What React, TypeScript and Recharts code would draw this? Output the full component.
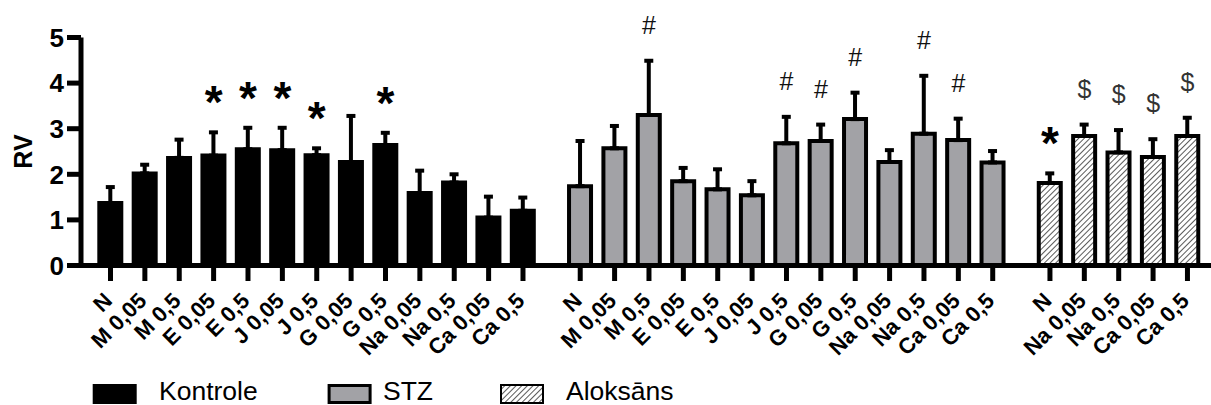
import React from 'react';
import { ComposedChart, Bar, Cell, ErrorBar, XAxis, YAxis, Scatter, Legend } from 'recharts';

// ---- data ----
const doseLabels = ['N', 'M 0,05', 'M 0,5', 'E 0,05', 'E 0,5', 'J 0,05', 'J 0,5', 'G 0,05', 'G 0,5', 'Na 0,05', 'Na 0,5', 'Ca 0,05', 'Ca 0,5'];
const alokLabels = ['N', 'Na 0,05', 'Na 0,5', 'Ca 0,05', 'Ca 0,5'];

const kontroleValues = [1.37, 2.02, 2.36, 2.41, 2.55, 2.53, 2.42, 2.27, 2.64, 1.59, 1.82, 1.05, 1.2];
const kontroleErrors = [0.35, 0.19, 0.4, 0.51, 0.47, 0.49, 0.15, 1.01, 0.27, 0.49, 0.18, 0.46, 0.29];
const kontroleMarks = ['', '', '', '*', '*', '*', '*', '', '*', '', '', '', ''];

const stzValues = [1.74, 2.57, 3.3, 1.85, 1.67, 1.54, 2.68, 2.73, 3.21, 2.27, 2.89, 2.75, 2.26];
const stzErrors = [0.99, 0.49, 1.19, 0.29, 0.44, 0.31, 0.58, 0.36, 0.58, 0.26, 1.27, 0.47, 0.25];
const stzMarks = ['', '', '#', '', '', '', '#', '#', '#', '', '#', '#', ''];

const alokValues = [1.81, 2.84, 2.48, 2.38, 2.84];
const alokErrors = [0.21, 0.25, 0.49, 0.39, 0.4];
const alokMarks = ['*', '$', '$', '$', '$'];

const groupNames = ['Kontrole', 'STZ', 'Aloksāns'];
const yTicks = [0, 1, 2, 3, 4, 5];

// ---- layout / style ----
const FONT = '"Liberation Sans", Arial, Helvetica, sans-serif';
const GROUP_GAP = 0.665;
const GREY = '#a2a2a6';

type Row = { x: number; label: string; value: number; err: [number, number]; top: number; mark: string; group: number };

const groups = [
  { labels: doseLabels, values: kontroleValues, errors: kontroleErrors, marks: kontroleMarks },
  { labels: doseLabels, values: stzValues, errors: stzErrors, marks: stzMarks },
  { labels: alokLabels, values: alokValues, errors: alokErrors, marks: alokMarks },
];

const rows: Row[] = [];
{
  let pos = 0;
  groups.forEach((g, gi) => {
    if (gi > 0) pos += GROUP_GAP;
    g.labels.forEach((label, i) => {
      rows.push({
        x: pos,
        label,
        value: g.values[i],
        err: [0, g.errors[i]],
        top: g.values[i] + g.errors[i],
        mark: g.marks[i],
        group: gi,
      });
      pos += 1;
    });
  });
}
const xTicks = rows.map((r) => r.x);

const fillFor = (g: number) => (g === 0 ? '#000' : g === 1 ? GREY : 'url(#hatch)');

const renderXTick = (props: any) => {
  const { x, y, payload } = props;
  const row = rows.find((r) => Math.abs(r.x - payload.value) < 1e-6);
  const ax = x + 3;
  const ay = y + 19;
  return (
    <text
      x={ax}
      y={ay}
      transform={`rotate(-45, ${ax}, ${ay})`}
      textAnchor="end"
      fontSize={22}
      fontWeight="bold"
      fontFamily={FONT}
      fill="#000"
    >
      {row ? row.label : ''}
    </text>
  );
};

const renderMark = (props: any) => {
  const { cx, cy, payload } = props;
  if (!payload || !payload.mark) return <g />;
  const isStar = payload.mark === '*';
  return (
    <text
      x={cx}
      y={isStar ? cy - 14 : cy - 27}
      textAnchor="middle"
      fontSize={isStar ? 46 : 25}
      fontWeight={isStar ? 'bold' : 'normal'}
      fontFamily={FONT}
      fill={isStar ? '#000' : payload.mark === '$' ? '#333' : '#111'}
    >
      {payload.mark}
    </text>
  );
};

const legendBoxX = [92.7, 327.6, 500];
const legendTextX = [159, 383, 566];

const renderLegend = () => (
  <svg width={1211} height={30} style={{ display: 'block' }}>
    <defs>
      <pattern id="hatchL" patternUnits="userSpaceOnUse" width={4} height={4} patternTransform="rotate(45)">
        <rect width={4} height={4} fill="#fff" />
        <line x1={0} y1={0} x2={0} y2={4} stroke="#000" strokeWidth={1.3} />
      </pattern>
    </defs>
    {groupNames.map((name, i) => (
      <g key={name}>
        {i === 0 && <rect x={legendBoxX[i]} y={9} width={44} height={20} fill="#000" />}
        {i === 1 && (
          <rect x={legendBoxX[i] + 1.5} y={10.5} width={41} height={17} fill={GREY} stroke="#000" strokeWidth={3} />
        )}
        {i === 2 && (
          <rect x={legendBoxX[i] + 1} y={10} width={42} height={18} fill="url(#hatchL)" stroke="#000" strokeWidth={2} />
        )}
        <text x={legendTextX[i]} y={24.5} fontSize={26.5} fontFamily={FONT} fill="#000">
          {name}
        </text>
      </g>
    ))}
  </svg>
);

export default function App() {
  return (
    <div style={{ position: 'absolute', left: 0, top: 0, background: '#fff' }}>
      <ComposedChart
        width={1211}
        height={405}
        data={rows}
        margin={{ top: 37.5, right: 0, bottom: 0, left: 0 }}
      >
        <defs>
          <pattern id="hatch" patternUnits="userSpaceOnUse" width={4} height={4} patternTransform="rotate(45)">
            <rect width={4} height={4} fill="#fff" />
            <line x1={0} y1={0} x2={0} y2={4} stroke="#000" strokeWidth={1.3} />
          </pattern>
        </defs>
        <XAxis
          dataKey="x"
          type="number"
          domain={[-0.858, 32.015]}
          allowDataOverflow
          ticks={xTicks}
          interval={0}
          tick={renderXTick}
          tickSize={15.5}
          tickLine={{ stroke: '#000', strokeWidth: 5 }}
          axisLine={{ stroke: '#000', strokeWidth: 5 }}
          height={109.5}
        />
        <YAxis
          type="number"
          domain={[0, 5]}
          ticks={yTicks}
          interval={0}
          width={81}
          tickSize={14}
          tickMargin={3}
          tick={{ fontSize: 26, fontWeight: 'bold', fontFamily: FONT, fill: '#000' }}
          tickLine={{ stroke: '#000', strokeWidth: 5 }}
          axisLine={{ stroke: '#000', strokeWidth: 5 }}
          label={{
            content: () => (
              <text
                transform="translate(23,151.5) rotate(-90)"
                textAnchor="middle"
                dominantBaseline="central"
                fontSize={25}
                fontWeight="bold"
                fontFamily={FONT}
                fill="#000"
              >
                RV
              </text>
            ),
          }}
        />
        <Bar dataKey="value" barSize={22} isAnimationActive={false}>
          {rows.map((r, i) => (
            <Cell key={i} fill={fillFor(r.group)} stroke="#000" strokeWidth={4} />
          ))}
          <ErrorBar dataKey="err" direction="y" width={4.5} stroke="#000" strokeWidth={4} isAnimationActive={false} />
        </Bar>
        <Scatter dataKey="top" shape={renderMark} isAnimationActive={false} legendType="none" />
        <Legend
          verticalAlign="bottom"
          content={renderLegend}
          wrapperStyle={{ left: 0, width: 1211, height: 30 }}
        />
      </ComposedChart>
    </div>
  );
}
